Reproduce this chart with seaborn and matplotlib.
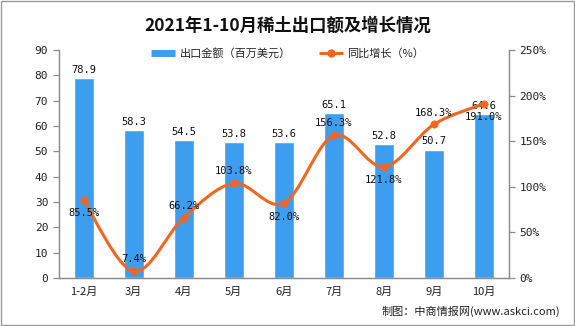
import matplotlib
matplotlib.use("Agg")
import matplotlib.pyplot as plt
import seaborn as sns
import pandas as pd
import numpy as np
from matplotlib.path import Path
from matplotlib.patches import PathPatch, Rectangle
from matplotlib.lines import Line2D
from matplotlib.ticker import FuncFormatter, FixedLocator

categories = ["1-2月", "3月", "4月", "5月", "6月", "7月", "8月", "9月", "10月"]
export_value = [78.9, 58.3, 54.5, 53.8, 53.6, 65.1, 52.8, 50.7, 64.6]
growth_pct = [85.5, 7.4, 66.2, 103.8, 82.0, 156.3, 121.8, 168.3, 191.0]
growth_label_side = ["below", "above", "above", "above", "below", "above", "below", "above", "below"]

title = "2021年1-10月稀土出口额及增长情况"
bar_name = "出口金额（百万美元）"
line_name = "同比增长（%）"
source = "制图：中商情报网(www.askci.com)"

BAR_C = "#3d9ef0"
LINE_C = "#f4661f"
AX_C = "#8c8c8c"

sns.set_style("white")
plt.rcParams["font.family"] = ["DejaVu Sans", "Noto Sans CJK SC"]

df = pd.DataFrame({"cat": categories, "val": export_value, "g": [v / 100 for v in growth_pct]})

fig = plt.figure(figsize=(5.75, 3.26), dpi=100)
ax = fig.add_axes([0.102, 0.147, 0.783, 0.700])
sns.barplot(data=df, x="cat", y="val", order=categories, color=BAR_C, width=0.4,
            saturation=1, ax=ax, zorder=2)
ax.set_ylim(0, 90)
ax.set_xlim(-0.5, len(categories) - 0.5)
ax.set_yticks(range(0, 91, 10))
ax.set_xlabel("")
ax.set_ylabel("")

for i, v in enumerate(export_value):
    ax.text(i, v + 1.2, f"{v:.1f}", ha="center", va="bottom", fontsize=7.5,
            family=["DejaVu Sans Mono"], color="#111111", zorder=5)

ax2 = ax.twinx()
ax2.set_position([0.102, 0.147, 0.783, 0.700])
ax2.set_ylim(0, 2.5)
ax2.set_yticks(np.arange(0, 2.51, 0.5))
ax2.yaxis.set_major_formatter(FuncFormatter(lambda v, p: f"{v*100:.0f}%"))

# smooth curve through the data points
xs = np.arange(len(categories), dtype=float)
ys = df["g"].to_numpy()
pts = np.column_stack([xs, ys])
verts = [tuple(pts[0])]
codes = [Path.MOVETO]
n = len(pts)
for i in range(n - 1):
    p0 = pts[i - 1] if i > 0 else pts[i]
    p1 = pts[i]
    p2 = pts[i + 1]
    p3 = pts[i + 2] if i + 2 < n else pts[i + 1]
    c1 = p1 + (p2 - p0) / 6.0
    c2 = p2 - (p3 - p1) / 6.0
    verts += [tuple(c1), tuple(c2), tuple(p2)]
    codes += [Path.CURVE4] * 3
ax2.add_patch(PathPatch(Path(verts, codes), facecolor="none", edgecolor=LINE_C,
                        lw=2.2, zorder=3, capstyle="round"))
sns.scatterplot(x=xs, y=ys, color=LINE_C, s=28, edgecolor=LINE_C, ax=ax2, zorder=4)

for i, (g, side) in enumerate(zip(growth_pct, growth_label_side)):
    off = 5 if side == "above" else -6
    ax2.annotate(f"{g:.1f}%", (i, g / 100), xytext=(0, off), textcoords="offset points",
                 ha="center", va="bottom" if side == "above" else "top", fontsize=7.5,
                 family=["DejaVu Sans Mono"], color="#111111", zorder=5)

for a in (ax, ax2):
    a.spines["top"].set_visible(False)
    for s in ("left", "right", "bottom"):
        a.spines[s].set_color(AX_C)
        a.spines[s].set_linewidth(0.9)
    a.tick_params(axis="y", colors="#222222", labelsize=8, length=4, color=AX_C, width=0.9)
    a.grid(False)

# x ticks between categories, labels at centers
ax.xaxis.set_major_locator(FixedLocator(np.arange(-0.5, len(categories), 1.0)))
ax.xaxis.set_minor_locator(FixedLocator(np.arange(len(categories))))
ax.set_xticklabels([""] * (len(categories) + 1))
ax.set_xticklabels(categories, minor=True, family=["Noto Sans CJK SC"], fontsize=8)
ax.tick_params(axis="x", which="major", length=4, color=AX_C, width=0.9, direction="out")
ax.tick_params(axis="x", which="minor", length=0, pad=6, colors="#222222")
ax.tick_params(axis="y", left=True, direction="out")
ax2.tick_params(axis="y", right=True, direction="out")
for t in ax.get_yticklabels() + ax2.get_yticklabels():
    t.set_family(["DejaVu Sans Mono"])

fig.text(0.5, 0.92, title, ha="center", va="center", fontsize=12.5, fontweight="bold",
         family=["Noto Sans CJK SC"], color="#111111")

handles = [Line2D([0], [0], color=BAR_C, lw=5, solid_capstyle="butt"),
           Line2D([0], [0], color=LINE_C, lw=2.2, marker="o", markersize=5,
                  solid_capstyle="butt")]
fig.legend(handles, [bar_name, line_name], loc="center", bbox_to_anchor=(0.5, 0.835),
           ncol=2, frameon=False, prop={"family": "Noto Sans CJK SC", "size": 8},
           handlelength=2.2, columnspacing=2.5, handletextpad=0.4)

fig.text(0.975, 0.045, source, ha="right", va="center", fontsize=8,
         family=["Noto Sans CJK SC"], color="#222222")

fig.patches.append(Rectangle((0.002, 0.003), 0.996, 0.994, transform=fig.transFigure,
                             fill=False, edgecolor="#9a9a9a", lw=1))

fig.savefig("out.png", dpi=100)
